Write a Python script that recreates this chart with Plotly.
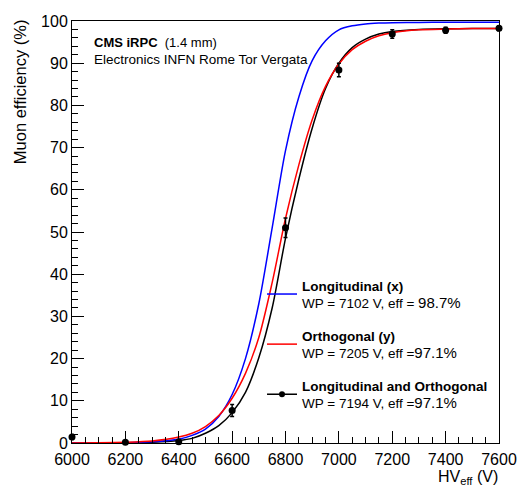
import plotly.graph_objects as go

# ---- data ----
hv_fit = [6000, 6100, 6200, 6300, 6400, 6450, 6500, 6550, 6600, 6650, 6700, 6750,
          6800, 6850, 6900, 6950, 7000, 7050, 7100, 7150, 7200, 7300, 7400, 7500, 7600]
eff_long = [0.0, 0.02, 0.08, 0.3, 0.9, 1.8, 3.3, 6.3, 11.5, 20.0, 33.0, 51.0,
            69.3, 82.0, 90.6, 95.3, 97.9, 98.85, 99.3, 99.5, 99.6, 99.65, 99.7, 99.7, 99.7]
eff_orth = [0.02, 0.05, 0.16, 0.47, 1.4, 2.3, 3.9, 6.5, 10.6, 16.5, 25.0, 38.0,
            53.2, 65.9, 76.6, 84.5, 89.8, 93.2, 95.2, 96.5, 97.2, 97.9, 98.1, 98.2, 98.2]
eff_both = [0.0, 0.01, 0.05, 0.17, 0.59, 1.1, 2.3, 4.1, 7.2, 12.0, 20.2, 32.0,
            48.5, 62.5, 74.6, 84.0, 90.0, 93.7, 95.7, 96.9, 97.5, 98.0, 98.15, 98.2, 98.2]

hv_data = [6000, 6200, 6400, 6600, 6800, 7000, 7200, 7400, 7600]
eff_data = [1.4, 0.2, 0.3, 7.7, 51.0, 88.4, 96.9, 97.8, 98.3]
err_data = [0.6, 0.2, 0.3, 1.4, 2.3, 1.6, 1.0, 0.7, 0.6]

legend_names = [
    "<b>Longitudinal (x)</b><br>WP = 7102 V, eff = <span style=\"font-size:15px\">98.7%</span>",
    "<b>Orthogonal (y)</b><br>WP = 7205 V, eff =<span style=\"font-size:15px\">97.1%</span>",
    "<b>Longitudinal and Orthogonal</b><br>WP = 7194 V, eff =<span style=\"font-size:15px\">97.1%</span>",
]

FONT = "Liberation Sans, Arial, Helvetica, sans-serif"

fig = go.Figure()

# black fit curve
fig.add_trace(go.Scatter(x=hv_fit, y=eff_both, mode="lines",
                         line=dict(color="black", width=1.5, shape="spline", smoothing=0.8),
                         showlegend=False))
# blue fit
fig.add_trace(go.Scatter(x=hv_fit, y=eff_long, mode="lines", name=legend_names[0],
                         line=dict(color="#0000ff", width=1.5, shape="spline", smoothing=0.8),
                         legendrank=1, legendgroup="a"))
# red fit
fig.add_trace(go.Scatter(x=hv_fit, y=eff_orth, mode="lines", name=legend_names[1],
                         line=dict(color="#ff0000", width=1.5, shape="spline", smoothing=0.8),
                         legendrank=2, legendgroup="b"))
# data points
fig.add_trace(go.Scatter(x=hv_data, y=eff_data, mode="markers", showlegend=False,
                         marker=dict(color="black", size=7),
                         error_y=dict(type="data", array=err_data, color="black",
                                      thickness=1.5, width=2),
                         cliponaxis=False))
# legend entry for combined (line + marker)
fig.add_trace(go.Scatter(x=[None], y=[None], mode="lines+markers", name=legend_names[2],
                         line=dict(color="black", width=1.5),
                         marker=dict(color="black", size=6), legendrank=3,
                         legendgroup="c"))

fig.update_layout(
    width=517, height=486,
    margin=dict(l=72, r=18, t=21, b=43, autoexpand=False),
    paper_bgcolor="white", plot_bgcolor="white",
    font=dict(family=FONT, size=13.5, color="black"),
    showlegend=True,
    legend=dict(x=0.445, y=0.41, xanchor="left", yanchor="top",
                bgcolor="rgba(0,0,0,0)", borderwidth=0,
                font=dict(size=13.5, family=FONT, color="black"),
                tracegroupgap=12, valign="middle", traceorder="grouped"),
    xaxis=dict(range=[6000, 7600], dtick=200, tick0=6000, ticks="inside", ticklen=12,
               tickwidth=1, tickcolor="black", automargin=False, ticklabelstandoff=2,
               minor=dict(dtick=50, ticks="inside", ticklen=6, tickcolor="black"),
               showgrid=False, zeroline=False, showline=True, linecolor="black",
               linewidth=1, mirror=True, tickfont=dict(size=16, family=FONT)),
    yaxis=dict(range=[0, 100], dtick=10, tick0=0, ticks="inside", ticklen=12,
               tickwidth=1, tickcolor="black", automargin=False,
               minor=dict(dtick=2, ticks="inside", ticklen=6, tickcolor="black"),
               showgrid=False, zeroline=False, showline=True, linecolor="black",
               linewidth=1, mirror=True, tickfont=dict(size=16, family=FONT)),
    annotations=[
        dict(text="<b>CMS iRPC</b>  (1.4 mm)", xref="paper", yref="paper",
             x=0.0468, y=0.950, xanchor="left", yanchor="middle", showarrow=False,
             font=dict(size=13, family=FONT)),
        dict(text="Electronics INFN Rome Tor Vergata", xref="paper", yref="paper",
             x=0.0468, y=0.9076, xanchor="left", yanchor="middle", showarrow=False,
             font=dict(size=13.5, family=FONT)),
        dict(text="Muon efficiency (%)", xref="paper", yref="paper",
             x=-0.122, y=1.01, xanchor="center", yanchor="top", textangle=-90,
             showarrow=False, font=dict(size=16.5, family=FONT)),
        dict(text="HV<sub>eff</sub> (V)", xref="paper", yref="paper",
             x=1.002, y=-0.081, xanchor="right", yanchor="middle",
             showarrow=False, font=dict(size=16, family=FONT)),
    ],
)

fig.write_html("out.html")
